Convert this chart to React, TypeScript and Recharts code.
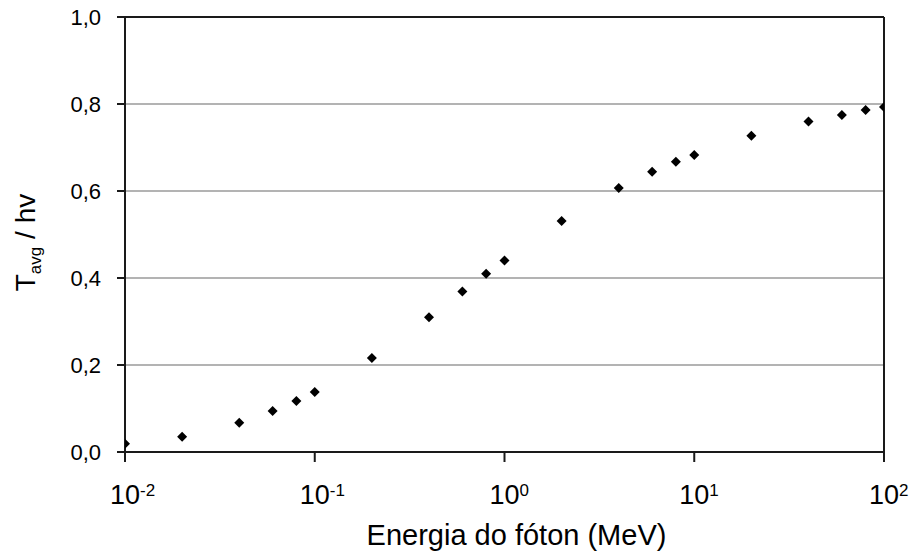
import React from 'react';
import { ScatterChart, Scatter, XAxis, YAxis, CartesianGrid, ReferenceLine, Label } from 'recharts';

// Energia do fóton (MeV) e fração média transferida
const energies = [0.01, 0.02, 0.04, 0.06, 0.08, 0.1, 0.2, 0.4, 0.6, 0.8, 1, 2, 4, 6, 8, 10, 20, 40, 60, 80, 100];
const ratios = [0.019, 0.035, 0.067, 0.094, 0.117, 0.138, 0.216, 0.31, 0.369, 0.41, 0.44, 0.531, 0.607, 0.644, 0.667, 0.683, 0.727, 0.76, 0.775, 0.786, 0.793];

const xTicks = [0.01, 0.1, 1, 10, 100];
const xExponents = ['-2', '-1', '0', '1', '2'];
const yTicks = [0, 0.2, 0.4, 0.6, 0.8, 1];

const data = energies.map((e, i) => ({ e, r: ratios[i] }));

const FONT = '"Liberation Sans", Arial, sans-serif';
const AXIS = '#1a1a1a';
const GRID = '#9a9a9a';

// losango preto para cada ponto
const Diamond = (props: any) => {
  const { cx, cy } = props;
  const s = 5;
  return <polygon points={`${cx},${cy - s} ${cx + s},${cy} ${cx},${cy + s} ${cx - s},${cy}`} fill="#000" />;
};

// rótulos 10^n com expoente sobrescrito
const PowerTick = (props: any) => {
  const { x, y, payload } = props;
  const idx = xTicks.indexOf(payload.value);
  const exp = xExponents[idx] ?? '';
  return (
    <g fontFamily={FONT} fill="#000">
      <text x={x} y={y + 42} textAnchor="middle" fontSize={27}>10</text>
      <text x={x + 15} y={y + 34} textAnchor="start" fontSize={17}>{exp}</text>
    </g>
  );
};

const YTitle = (props: any) => {
  const vb = props.viewBox || {};
  const cy = (vb.y ?? 17) + (vb.height ?? 435) / 2 + 8;
  const cx = 35;
  return (
    <text x={cx} y={cy} transform={`rotate(-90, ${cx}, ${cy})`} textAnchor="middle" fontFamily={FONT} fontSize={28} fill="#000">
      T<tspan fontSize={17} dy={6}>avg</tspan><tspan dy={-6}> / hv</tspan>
    </text>
  );
};

export default function App() {
  return (
    <div style={{ position: 'absolute', left: 0, top: 0, width: 914, height: 554, background: '#fff' }}>
      <ScatterChart width={914} height={554} margin={{ top: 17, right: 30, bottom: 0, left: 0 }}>
        <CartesianGrid vertical={false} stroke={GRID} strokeWidth={1.5} />
        <XAxis
          dataKey="e"
          type="number"
          scale="log"
          domain={[0.01, 100]}
          ticks={xTicks}
          allowDataOverflow
          height={102}
          stroke={AXIS}
          strokeWidth={2}
          tickSize={10}
          tickMargin={0}
          tick={<PowerTick />}
        >
          <Label value="Energia do fóton (MeV)" position="insideBottom" offset={9} dx={12} fontSize={29} fill="#000" fontFamily={FONT} />
        </XAxis>
        <YAxis
          dataKey="r"
          type="number"
          domain={[0, 1]}
          ticks={yTicks}
          width={125}
          stroke={AXIS}
          strokeWidth={2}
          tickSize={8}
          tickMargin={16}
          tick={{ fontSize: 22, fill: '#000', fontFamily: FONT }}
          tickFormatter={(v: number) => v.toFixed(1).replace('.', ',')}
        >
          <Label content={<YTitle />} />
        </YAxis>
        <ReferenceLine y={1} stroke={AXIS} strokeWidth={2} />
        <ReferenceLine x={100} stroke={AXIS} strokeWidth={2} />
        <Scatter data={data} shape={<Diamond />} isAnimationActive={false} />
      </ScatterChart>
    </div>
  );
}
